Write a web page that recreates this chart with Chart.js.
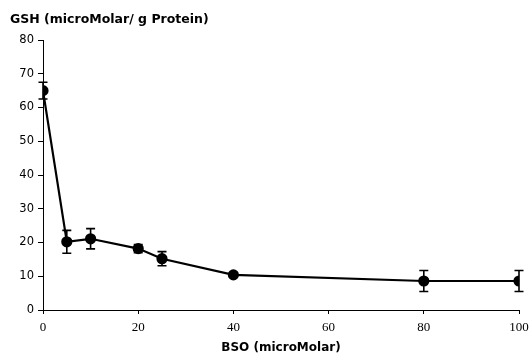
<!DOCTYPE html>
<html>
<head>
<meta charset="utf-8">
<script src="https://cdn.jsdelivr.net/npm/chart.js@4/dist/chart.umd.min.js"></script>
<style>
  html, body { margin: 0; padding: 0; background: #fff; }
  #wrap { width: 529px; height: 355px; }
</style>
</head>
<body>
<div id="wrap"><canvas id="gshChart"></canvas></div>
<script>
// BSO dose (microMolar) vs GSH level
const doses = [0, 5, 10, 20, 25, 40, 80, 100];
const gsh = [65.0, 20.2, 21.1, 18.2, 15.2, 10.4, 8.6, 8.6];
const gshErr = [2.5, 3.4, 3.0, 1.2, 2.1, 0.7, 3.1, 3.1];
const xTicks = [0, 20, 40, 60, 80, 100];
const yTicks = [0, 10, 20, 30, 40, 50, 60, 70, 80];

// draws the vertical error bars with caps
const errorBars = {
    id: 'errorBars',
    afterDatasetsDraw(chart) {
        const ctx = chart.ctx;
        const xs = chart.scales.x, ys = chart.scales.y;
        ctx.save();
        ctx.strokeStyle = '#000';
        ctx.lineWidth = 1.6;
        doses.forEach((d, i) => {
            const px = xs.getPixelForValue(d);
            const top = ys.getPixelForValue(gsh[i] + gshErr[i]);
            const bot = ys.getPixelForValue(gsh[i] - gshErr[i]);
            ctx.beginPath();
            ctx.moveTo(px, top); ctx.lineTo(px, bot);
            ctx.moveTo(px - 4.5, top); ctx.lineTo(px + 4.5, top);
            ctx.moveTo(px - 4.5, bot); ctx.lineTo(px + 4.5, bot);
            ctx.stroke();
        });
        ctx.restore();
    }
};

new Chart(document.getElementById('gshChart').getContext('2d'), {
    type: 'line',
    data: {
        datasets: [{
            data: doses.map((d, i) => ({ x: d, y: gsh[i] })),
            borderColor: '#000',
            backgroundColor: '#000',
            borderWidth: 2.2,
            pointRadius: 4.5,
            pointBackgroundColor: '#000',
            pointBorderColor: '#000',
            tension: 0
        }]
    },
    options: {
        responsive: true,
        maintainAspectRatio: false,
        animation: false,
        layout: { padding: { left: 10, right: 0, top: 0, bottom: 0 } },
        plugins: {
            legend: { display: false },
            tooltip: { enabled: false },
            title: {
                display: true,
                text: 'GSH (microMolar/ g Protein)',
                align: 'start',
                color: '#000',
                font: { family: 'DejaVu Sans', size: 12.5, weight: 'bold' },
                padding: { top: 12, bottom: 13 }
            }
        },
        scales: {
            x: {
                type: 'linear',
                min: 0,
                max: 100,
                afterBuildTicks: s => { s.ticks = xTicks.map(v => ({ value: v })); },
                afterFit: s => { s.height = 45; s.paddingRight = 10; s.paddingLeft = 0; },
                grid: { drawOnChartArea: false, drawTicks: true, tickLength: 4, color: '#000' },
                border: { color: '#000', width: 1 },
                ticks: { color: '#000', padding: 6, font: { family: 'Liberation Serif', size: 13 } },
                title: {
                    display: true,
                    text: 'BSO (microMolar)',
                    color: '#000',
                    font: { family: 'DejaVu Sans', size: 12, weight: 'bold' },
                    padding: { top: 0, bottom: 0 }
                }
            },
            y: {
                min: 0,
                max: 80,
                afterBuildTicks: s => { s.ticks = yTicks.map(v => ({ value: v })); },
                afterFit: s => { s.width = 33; },
                grid: { drawOnChartArea: false, drawTicks: true, tickLength: 5, color: '#000' },
                border: { color: '#000', width: 1 },
                ticks: { color: '#000', padding: 4, font: { family: 'DejaVu Sans', size: 11.5 } }
            }
        }
    },
    plugins: [errorBars]
});
</script>
</body>
</html>
